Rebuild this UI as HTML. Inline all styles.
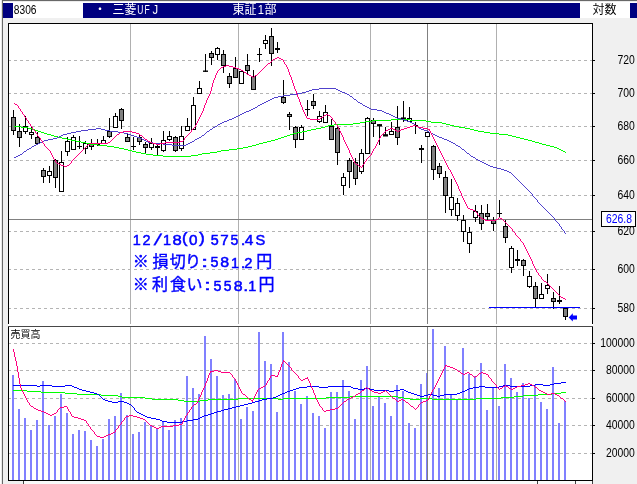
<!DOCTYPE html>
<html><head><meta charset="utf-8"><title>8306 chart</title>
<style>html,body{margin:0;padding:0;background:#f0f0f0;overflow:hidden}body{width:637px;height:484px;position:relative;font-family:"Liberation Sans",sans-serif}</style></head>
<body>
<svg width="637" height="484" viewBox="0 0 637 484" style="display:block;position:absolute;left:0;top:0;will-change:transform">
<rect x="0" y="0" width="637" height="484" fill="#f0f0f0"/>
<rect x="0" y="0" width="637" height="3" fill="#ffffff"/>
<rect x="0" y="0" width="2" height="484" fill="#ffffff"/>
<rect x="2" y="0" width="635" height="1" fill="#686868"/>
<rect x="2" y="0" width="1" height="484" fill="#686868"/>
<rect x="1" y="0" width="1" height="484" fill="#e8e8e8"/>
<rect x="3" y="1" width="634" height="1" fill="#ececec"/>
<rect x="3" y="3" width="634" height="15" fill="#000080"/>
<rect x="13" y="3" width="70" height="15" fill="#ffffff"/>
<rect x="580" y="3" width="50" height="15" fill="#ffffff"/>
<rect x="8" y="23" width="585" height="458" fill="#ffffff"/>
<rect x="24" y="481" width="568" height="3" fill="#fafafa"/>
<rect x="23" y="481" width="1" height="3" fill="#404040"/>
<rect x="537" y="481" width="1" height="3" fill="#404040"/>
<rect x="575" y="481" width="1" height="3" fill="#404040"/>
<rect x="592" y="481" width="1" height="3" fill="#404040"/>
<g shape-rendering="crispEdges">
<line x1="9" y1="60.5" x2="592" y2="60.5" stroke="#b4b4b4" stroke-width="1" stroke-dasharray="3 3" stroke-dashoffset="1"/>
<line x1="9" y1="93.5" x2="592" y2="93.5" stroke="#b4b4b4" stroke-width="1" stroke-dasharray="3 3" stroke-dashoffset="1"/>
<line x1="9" y1="126.5" x2="592" y2="126.5" stroke="#b4b4b4" stroke-width="1" stroke-dasharray="3 3" stroke-dashoffset="1"/>
<line x1="9" y1="160.5" x2="592" y2="160.5" stroke="#b4b4b4" stroke-width="1" stroke-dasharray="3 3" stroke-dashoffset="1"/>
<line x1="9" y1="195.5" x2="592" y2="195.5" stroke="#b4b4b4" stroke-width="1" stroke-dasharray="3 3" stroke-dashoffset="1"/>
<line x1="9" y1="231.5" x2="592" y2="231.5" stroke="#b4b4b4" stroke-width="1" stroke-dasharray="3 3" stroke-dashoffset="1"/>
<line x1="9" y1="269.5" x2="592" y2="269.5" stroke="#b4b4b4" stroke-width="1" stroke-dasharray="3 3" stroke-dashoffset="1"/>
<line x1="9" y1="308.5" x2="592" y2="308.5" stroke="#b4b4b4" stroke-width="1" stroke-dasharray="3 3" stroke-dashoffset="1"/>
<line x1="9" y1="343.5" x2="592" y2="343.5" stroke="#b4b4b4" stroke-width="1" stroke-dasharray="3 3" stroke-dashoffset="1"/>
<line x1="9" y1="370.5" x2="592" y2="370.5" stroke="#b4b4b4" stroke-width="1" stroke-dasharray="3 3" stroke-dashoffset="1"/>
<line x1="9" y1="398.5" x2="592" y2="398.5" stroke="#b4b4b4" stroke-width="1" stroke-dasharray="3 3" stroke-dashoffset="1"/>
<line x1="9" y1="425.5" x2="592" y2="425.5" stroke="#b4b4b4" stroke-width="1" stroke-dasharray="3 3" stroke-dashoffset="1"/>
<line x1="9" y1="453.5" x2="592" y2="453.5" stroke="#b4b4b4" stroke-width="1" stroke-dasharray="3 3" stroke-dashoffset="1"/>
<rect x="130" y="24" width="1" height="456" fill="#b0b0b0"/>
<rect x="238" y="24" width="1" height="456" fill="#b0b0b0"/>
<rect x="370" y="24" width="1" height="456" fill="#b0b0b0"/>
<rect x="496" y="24" width="1" height="456" fill="#b0b0b0"/>
<rect x="12" y="375" width="2" height="105" fill="#8080ff"/>
<rect x="18" y="409" width="2" height="71" fill="#8080ff"/>
<rect x="24" y="418" width="2" height="62" fill="#8080ff"/>
<rect x="30" y="430" width="2" height="50" fill="#8080ff"/>
<rect x="36" y="420" width="2" height="60" fill="#8080ff"/>
<rect x="42" y="381" width="2" height="99" fill="#8080ff"/>
<rect x="48" y="425" width="2" height="55" fill="#8080ff"/>
<rect x="54" y="416" width="2" height="64" fill="#8080ff"/>
<rect x="60" y="394" width="2" height="86" fill="#8080ff"/>
<rect x="66" y="413" width="2" height="67" fill="#8080ff"/>
<rect x="72" y="434" width="2" height="46" fill="#8080ff"/>
<rect x="78" y="430" width="2" height="50" fill="#8080ff"/>
<rect x="84" y="431" width="2" height="49" fill="#8080ff"/>
<rect x="90" y="440" width="2" height="40" fill="#8080ff"/>
<rect x="96" y="446" width="2" height="34" fill="#8080ff"/>
<rect x="102" y="439" width="2" height="41" fill="#8080ff"/>
<rect x="108" y="419" width="2" height="61" fill="#8080ff"/>
<rect x="114" y="416" width="2" height="64" fill="#8080ff"/>
<rect x="120" y="393" width="2" height="87" fill="#8080ff"/>
<rect x="126" y="415" width="2" height="65" fill="#8080ff"/>
<rect x="132" y="434" width="2" height="46" fill="#8080ff"/>
<rect x="138" y="432" width="2" height="48" fill="#8080ff"/>
<rect x="144" y="422" width="2" height="58" fill="#8080ff"/>
<rect x="150" y="426" width="2" height="54" fill="#8080ff"/>
<rect x="156" y="429" width="2" height="51" fill="#8080ff"/>
<rect x="162" y="422" width="2" height="58" fill="#8080ff"/>
<rect x="168" y="430" width="2" height="50" fill="#8080ff"/>
<rect x="174" y="420" width="2" height="60" fill="#8080ff"/>
<rect x="180" y="418" width="2" height="62" fill="#8080ff"/>
<rect x="186" y="376" width="2" height="104" fill="#8080ff"/>
<rect x="192" y="388" width="2" height="92" fill="#8080ff"/>
<rect x="198" y="394" width="2" height="86" fill="#8080ff"/>
<rect x="204" y="336" width="2" height="144" fill="#8080ff"/>
<rect x="210" y="359" width="2" height="121" fill="#8080ff"/>
<rect x="216" y="376" width="2" height="104" fill="#8080ff"/>
<rect x="222" y="395" width="2" height="85" fill="#8080ff"/>
<rect x="228" y="394" width="2" height="86" fill="#8080ff"/>
<rect x="234" y="379" width="2" height="101" fill="#8080ff"/>
<rect x="240" y="419" width="2" height="61" fill="#8080ff"/>
<rect x="246" y="407" width="2" height="73" fill="#8080ff"/>
<rect x="252" y="411" width="2" height="69" fill="#8080ff"/>
<rect x="258" y="332" width="2" height="148" fill="#8080ff"/>
<rect x="264" y="361" width="2" height="119" fill="#8080ff"/>
<rect x="270" y="364" width="2" height="116" fill="#8080ff"/>
<rect x="276" y="412" width="2" height="68" fill="#8080ff"/>
<rect x="282" y="332" width="2" height="148" fill="#8080ff"/>
<rect x="288" y="362" width="2" height="118" fill="#8080ff"/>
<rect x="294" y="391" width="2" height="89" fill="#8080ff"/>
<rect x="300" y="404" width="2" height="76" fill="#8080ff"/>
<rect x="306" y="396" width="2" height="84" fill="#8080ff"/>
<rect x="312" y="413" width="2" height="67" fill="#8080ff"/>
<rect x="318" y="416" width="2" height="64" fill="#8080ff"/>
<rect x="324" y="428" width="2" height="52" fill="#8080ff"/>
<rect x="330" y="392" width="2" height="88" fill="#8080ff"/>
<rect x="336" y="392" width="2" height="88" fill="#8080ff"/>
<rect x="342" y="380" width="2" height="100" fill="#8080ff"/>
<rect x="348" y="391" width="2" height="89" fill="#8080ff"/>
<rect x="354" y="419" width="2" height="61" fill="#8080ff"/>
<rect x="360" y="380" width="2" height="100" fill="#8080ff"/>
<rect x="366" y="366" width="2" height="114" fill="#8080ff"/>
<rect x="372" y="406" width="2" height="74" fill="#8080ff"/>
<rect x="378" y="397" width="2" height="83" fill="#8080ff"/>
<rect x="384" y="403" width="2" height="77" fill="#8080ff"/>
<rect x="390" y="416" width="2" height="64" fill="#8080ff"/>
<rect x="396" y="385" width="2" height="95" fill="#8080ff"/>
<rect x="402" y="391" width="2" height="89" fill="#8080ff"/>
<rect x="408" y="423" width="2" height="57" fill="#8080ff"/>
<rect x="414" y="428" width="2" height="52" fill="#8080ff"/>
<rect x="420" y="384" width="2" height="96" fill="#8080ff"/>
<rect x="426" y="373" width="2" height="107" fill="#8080ff"/>
<rect x="432" y="329" width="2" height="151" fill="#8080ff"/>
<rect x="438" y="388" width="2" height="92" fill="#8080ff"/>
<rect x="444" y="346" width="2" height="134" fill="#8080ff"/>
<rect x="450" y="394" width="2" height="86" fill="#8080ff"/>
<rect x="456" y="399" width="2" height="81" fill="#8080ff"/>
<rect x="462" y="348" width="2" height="132" fill="#8080ff"/>
<rect x="468" y="374" width="2" height="106" fill="#8080ff"/>
<rect x="474" y="376" width="2" height="104" fill="#8080ff"/>
<rect x="480" y="363" width="2" height="117" fill="#8080ff"/>
<rect x="486" y="410" width="2" height="70" fill="#8080ff"/>
<rect x="492" y="388" width="2" height="92" fill="#8080ff"/>
<rect x="498" y="406" width="2" height="74" fill="#8080ff"/>
<rect x="504" y="364" width="2" height="116" fill="#8080ff"/>
<rect x="510" y="378" width="2" height="102" fill="#8080ff"/>
<rect x="516" y="392" width="2" height="88" fill="#8080ff"/>
<rect x="522" y="383" width="2" height="97" fill="#8080ff"/>
<rect x="528" y="398" width="2" height="82" fill="#8080ff"/>
<rect x="534" y="385" width="2" height="95" fill="#8080ff"/>
<rect x="540" y="402" width="2" height="78" fill="#8080ff"/>
<rect x="546" y="409" width="2" height="71" fill="#8080ff"/>
<rect x="552" y="367" width="2" height="113" fill="#8080ff"/>
<rect x="558" y="423" width="2" height="57" fill="#8080ff"/>
<rect x="564" y="401" width="2" height="79" fill="#8080ff"/>
<rect x="427" y="24" width="1" height="456" fill="#808080"/>
<rect x="9" y="219" width="583" height="1" fill="#808080"/>
</g>
<path d="M13 390.5h14M27 391.5h14M41 392.5h24M561 392.5h5M65 393.5h12M552 393.5h9M77 394.5h24M538 394.5h14M101 395.5h17M523 395.5h15M118 396.5h4M350 396.5h48M514 396.5h9M122 397.5h23M326 397.5h24M398 397.5h6M501 397.5h13M145 398.5h7M238 398.5h40M283 398.5h43M404 398.5h6M420 398.5h12M476 398.5h25M152 399.5h26M208 399.5h30M278 399.5h5M410 399.5h10M432 399.5h44M178 400.5h6M200 400.5h8M184 401.5h16" fill="none" stroke="#00ff00" stroke-width="1" shape-rendering="crispEdges"/>
<path d="M561 382.5h5M554 383.5h7M535 384.5h8M550 384.5h4M13 385.5h24M40 385.5h12M65 385.5h7M503 385.5h7M530 385.5h5M543 385.5h7M37 386.5h3M52 386.5h13M72 386.5h2M307 386.5h12M328 386.5h23M479 386.5h6M499 386.5h4M510 386.5h20M74 387.5h3M299 387.5h8M319 387.5h9M351 387.5h2M473 387.5h6M485 387.5h14M77 388.5h2M296 388.5h3M353 388.5h5M364 388.5h6M469 388.5h4M79 389.5h3M293 389.5h3M358 389.5h6M370 389.5h4M400 389.5h4M467 389.5h2M82 390.5h4M290 390.5h3M374 390.5h15M394 390.5h6M404 390.5h2M465 390.5h2M86 391.5h4M287 391.5h3M389 391.5h5M406 391.5h2M462 391.5h3M90 392.5h4M285 392.5h2M408 392.5h3M460 392.5h2M94 393.5h3M282 393.5h3M411 393.5h3M457 393.5h3M97 394.5h2M280 394.5h2M414 394.5h3M428 394.5h5M444 394.5h13M99 395.5h1M278 395.5h2M417 395.5h3M424 395.5h4M433 395.5h4M440 395.5h4M100 396.5h1M276 396.5h2M420 396.5h4M437 396.5h3M101 397.5h1M273 397.5h3M102 398.5h1M267 398.5h6M103 399.5h2M262 399.5h5M105 400.5h3M259 400.5h3M108 401.5h4M118 401.5h6M255 401.5h4M112 402.5h6M124 402.5h3M252 402.5h3M127 403.5h2M248 403.5h4M129 404.5h2M244 404.5h4M131 405.5h1M240 405.5h4M132 406.5h1M236 406.5h4M133 407.5h1M232 407.5h4M134 408.5h1M228 408.5h4M134 409.5h1M224 409.5h4M135 410.5h1M221 410.5h3M136 411.5h1M217 411.5h4M137 412.5h2M214 412.5h3M139 413.5h2M211 413.5h3M141 414.5h2M208 414.5h3M143 415.5h2M204 415.5h4M145 416.5h2M202 416.5h2M147 417.5h4M200 417.5h2M151 418.5h5M198 418.5h2M156 419.5h4M193 419.5h5M160 420.5h2M187 420.5h6M162 421.5h5M182 421.5h5M167 422.5h15" fill="none" stroke="#0000ff" stroke-width="1" shape-rendering="crispEdges"/>
<path d="M13 349.5h1M13 350.5h1M13 351.5h1M14 352.5h1M14 353.5h1M14 354.5h1M14 355.5h1M14 356.5h1M15 357.5h1M15 358.5h1M15 359.5h1M15 360.5h1M283 360.5h1M16 361.5h1M283 361.5h2M16 362.5h1M282 362.5h1M285 362.5h1M16 363.5h1M282 363.5h1M286 363.5h1M16 364.5h1M281 364.5h1M287 364.5h1M16 365.5h1M281 365.5h1M288 365.5h1M445 365.5h2M17 366.5h1M281 366.5h1M289 366.5h1M445 366.5h1M447 366.5h3M17 367.5h1M280 367.5h1M290 367.5h1M444 367.5h1M450 367.5h3M17 368.5h1M280 368.5h1M291 368.5h1M444 368.5h1M453 368.5h2M17 369.5h1M280 369.5h1M291 369.5h1M443 369.5h1M455 369.5h2M17 370.5h1M214 370.5h4M279 370.5h1M292 370.5h1M443 370.5h1M457 370.5h1M17 371.5h1M210 371.5h4M218 371.5h3M279 371.5h1M293 371.5h1M442 371.5h1M458 371.5h2M18 372.5h1M210 372.5h1M221 372.5h9M278 372.5h1M294 372.5h1M442 372.5h1M460 372.5h1M467 372.5h2M481 372.5h2M18 373.5h1M209 373.5h1M230 373.5h1M278 373.5h1M295 373.5h1M441 373.5h1M461 373.5h2M465 373.5h2M469 373.5h1M479 373.5h2M483 373.5h3M18 374.5h1M209 374.5h1M231 374.5h1M278 374.5h1M296 374.5h1M441 374.5h1M463 374.5h2M470 374.5h2M478 374.5h1M486 374.5h2M18 375.5h1M208 375.5h1M232 375.5h1M271 375.5h4M277 375.5h1M297 375.5h1M440 375.5h1M472 375.5h1M477 375.5h1M488 375.5h1M18 376.5h1M208 376.5h1M232 376.5h1M270 376.5h1M275 376.5h3M298 376.5h1M440 376.5h1M473 376.5h1M475 376.5h2M488 376.5h1M18 377.5h1M208 377.5h1M233 377.5h1M270 377.5h1M298 377.5h1M307 377.5h1M439 377.5h1M474 377.5h1M489 377.5h1M19 378.5h1M207 378.5h1M234 378.5h1M269 378.5h1M299 378.5h1M305 378.5h3M439 378.5h1M490 378.5h1M19 379.5h1M207 379.5h1M235 379.5h1M269 379.5h1M300 379.5h1M303 379.5h2M308 379.5h1M438 379.5h1M491 379.5h1M19 380.5h1M207 380.5h1M235 380.5h1M268 380.5h1M301 380.5h2M308 380.5h1M438 380.5h1M491 380.5h1M19 381.5h1M206 381.5h1M236 381.5h1M267 381.5h1M309 381.5h1M437 381.5h1M492 381.5h1M19 382.5h1M206 382.5h1M236 382.5h1M267 382.5h1M309 382.5h1M437 382.5h1M493 382.5h1M19 383.5h1M205 383.5h1M237 383.5h1M266 383.5h1M310 383.5h1M436 383.5h1M494 383.5h1M528 383.5h2M20 384.5h1M205 384.5h1M237 384.5h1M266 384.5h1M310 384.5h1M436 384.5h1M495 384.5h1M525 384.5h3M530 384.5h2M20 385.5h1M205 385.5h1M238 385.5h1M265 385.5h1M310 385.5h1M435 385.5h1M496 385.5h1M505 385.5h1M521 385.5h4M532 385.5h2M20 386.5h1M204 386.5h1M238 386.5h1M263 386.5h2M311 386.5h1M435 386.5h1M496 386.5h1M503 386.5h2M506 386.5h2M517 386.5h4M534 386.5h1M20 387.5h1M204 387.5h1M239 387.5h1M261 387.5h2M311 387.5h1M366 387.5h1M434 387.5h1M497 387.5h1M502 387.5h1M508 387.5h1M515 387.5h2M535 387.5h2M21 388.5h1M203 388.5h1M239 388.5h1M259 388.5h2M312 388.5h1M365 388.5h1M367 388.5h2M434 388.5h1M498 388.5h1M500 388.5h2M509 388.5h2M513 388.5h2M537 388.5h1M21 389.5h1M203 389.5h1M240 389.5h1M258 389.5h1M312 389.5h1M364 389.5h1M369 389.5h1M433 389.5h1M499 389.5h1M511 389.5h2M538 389.5h1M22 390.5h1M202 390.5h1M240 390.5h1M257 390.5h1M313 390.5h1M362 390.5h2M370 390.5h2M385 390.5h1M432 390.5h1M539 390.5h2M22 391.5h1M202 391.5h1M241 391.5h1M257 391.5h1M313 391.5h1M361 391.5h1M372 391.5h2M383 391.5h2M386 391.5h1M432 391.5h1M541 391.5h2M23 392.5h1M201 392.5h1M241 392.5h1M256 392.5h1M313 392.5h1M360 392.5h1M374 392.5h4M381 392.5h2M387 392.5h1M431 392.5h1M543 392.5h2M23 393.5h1M201 393.5h1M242 393.5h1M256 393.5h1M314 393.5h1M358 393.5h2M378 393.5h3M388 393.5h1M431 393.5h1M545 393.5h2M551 393.5h4M24 394.5h1M201 394.5h1M243 394.5h2M255 394.5h1M314 394.5h1M356 394.5h2M389 394.5h1M430 394.5h1M547 394.5h4M555 394.5h2M24 395.5h1M200 395.5h1M245 395.5h1M255 395.5h1M315 395.5h1M355 395.5h1M390 395.5h1M430 395.5h1M557 395.5h2M25 396.5h1M200 396.5h1M246 396.5h1M254 396.5h1M315 396.5h1M353 396.5h2M391 396.5h1M429 396.5h1M559 396.5h1M25 397.5h1M199 397.5h1M247 397.5h1M254 397.5h1M315 397.5h1M351 397.5h2M392 397.5h1M429 397.5h1M560 397.5h1M26 398.5h1M199 398.5h1M248 398.5h1M253 398.5h1M316 398.5h1M349 398.5h2M393 398.5h2M428 398.5h1M561 398.5h2M26 399.5h1M198 399.5h1M249 399.5h2M253 399.5h1M316 399.5h1M347 399.5h2M395 399.5h1M401 399.5h2M428 399.5h1M563 399.5h1M27 400.5h1M198 400.5h1M251 400.5h2M317 400.5h1M346 400.5h1M396 400.5h1M399 400.5h2M403 400.5h2M426 400.5h2M564 400.5h1M27 401.5h1M197 401.5h1M252 401.5h1M317 401.5h1M344 401.5h2M397 401.5h2M405 401.5h1M423 401.5h3M565 401.5h1M28 402.5h1M197 402.5h1M318 402.5h1M343 402.5h1M406 402.5h2M421 402.5h2M29 403.5h1M196 403.5h1M318 403.5h1M342 403.5h1M408 403.5h1M420 403.5h1M29 404.5h1M194 404.5h2M319 404.5h1M341 404.5h1M409 404.5h1M419 404.5h1M30 405.5h1M193 405.5h1M319 405.5h1M340 405.5h1M410 405.5h1M418 405.5h1M31 406.5h2M64 406.5h3M192 406.5h1M320 406.5h1M339 406.5h1M411 406.5h2M418 406.5h1M33 407.5h1M60 407.5h4M67 407.5h1M191 407.5h1M321 407.5h1M338 407.5h1M413 407.5h1M417 407.5h1M34 408.5h2M59 408.5h1M67 408.5h1M191 408.5h1M322 408.5h1M335 408.5h3M414 408.5h1M416 408.5h1M36 409.5h2M58 409.5h1M68 409.5h1M190 409.5h1M322 409.5h1M330 409.5h5M415 409.5h1M38 410.5h3M57 410.5h1M68 410.5h1M189 410.5h1M323 410.5h1M326 410.5h4M41 411.5h3M57 411.5h1M69 411.5h1M189 411.5h1M324 411.5h2M44 412.5h2M56 412.5h1M70 412.5h1M188 412.5h1M46 413.5h2M54 413.5h2M70 413.5h1M187 413.5h1M48 414.5h2M52 414.5h2M71 414.5h1M187 414.5h1M50 415.5h2M71 415.5h1M129 415.5h4M186 415.5h1M72 416.5h2M126 416.5h3M133 416.5h4M185 416.5h1M74 417.5h4M125 417.5h1M137 417.5h3M185 417.5h1M78 418.5h3M124 418.5h1M140 418.5h3M184 418.5h1M81 419.5h3M124 419.5h1M143 419.5h2M184 419.5h1M84 420.5h2M123 420.5h1M145 420.5h1M183 420.5h1M86 421.5h1M122 421.5h1M146 421.5h1M183 421.5h1M86 422.5h1M121 422.5h1M147 422.5h1M182 422.5h1M87 423.5h1M121 423.5h1M148 423.5h1M182 423.5h1M88 424.5h1M120 424.5h1M149 424.5h1M179 424.5h3M88 425.5h1M119 425.5h1M150 425.5h2M173 425.5h6M89 426.5h1M118 426.5h1M152 426.5h2M161 426.5h12M90 427.5h1M118 427.5h1M154 427.5h2M159 427.5h2M90 428.5h1M117 428.5h1M156 428.5h3M91 429.5h1M116 429.5h1M92 430.5h1M115 430.5h1M93 431.5h1M115 431.5h1M94 432.5h1M113 432.5h2M94 433.5h1M111 433.5h2M95 434.5h1M108 434.5h3M96 435.5h1M106 435.5h2M97 436.5h3M104 436.5h2M100 437.5h4" fill="none" stroke="#ff0080" stroke-width="1" shape-rendering="crispEdges"/>
<g shape-rendering="crispEdges">
<rect x="13" y="110" width="1" height="25" fill="#000"/>
<rect x="11.5" y="117.5" width="4" height="13" fill="#808080" stroke="#000" stroke-width="1"/>
<rect x="19" y="124" width="1" height="23" fill="#000"/>
<rect x="17.5" y="131.5" width="4" height="6" fill="#808080" stroke="#000" stroke-width="1"/>
<rect x="25" y="116" width="1" height="18" fill="#000"/>
<rect x="23.5" y="126.5" width="4" height="5" fill="#ffffff" stroke="#000" stroke-width="1"/>
<rect x="31" y="127" width="1" height="12" fill="#000"/>
<rect x="29.5" y="132.5" width="4" height="2" fill="#ffffff" stroke="#000" stroke-width="1"/>
<rect x="37" y="132" width="1" height="12" fill="#000"/>
<rect x="35.5" y="137.5" width="4" height="6" fill="#808080" stroke="#000" stroke-width="1"/>
<rect x="43" y="168" width="1" height="15" fill="#000"/>
<rect x="41.5" y="170.5" width="4" height="6" fill="#808080" stroke="#000" stroke-width="1"/>
<rect x="49" y="166" width="1" height="17" fill="#000"/>
<rect x="47.5" y="171.5" width="4" height="4" fill="#ffffff" stroke="#000" stroke-width="1"/>
<rect x="55" y="159" width="1" height="29" fill="#000"/>
<rect x="53.5" y="160.5" width="4" height="17" fill="#808080" stroke="#000" stroke-width="1"/>
<rect x="61" y="151" width="1" height="41" fill="#000"/>
<rect x="59.5" y="162.5" width="4" height="29" fill="#ffffff" stroke="#000" stroke-width="1"/>
<rect x="67" y="137" width="1" height="19" fill="#000"/>
<rect x="65.5" y="141.5" width="4" height="10" fill="#ffffff" stroke="#000" stroke-width="1"/>
<rect x="73" y="135" width="1" height="15" fill="#000"/>
<rect x="71.5" y="137.5" width="4" height="12" fill="#ffffff" stroke="#000" stroke-width="1"/>
<rect x="79" y="136" width="1" height="13" fill="#000"/>
<rect x="77" y="146" width="5" height="1" fill="#000"/>
<rect x="85" y="141" width="1" height="13" fill="#000"/>
<rect x="83.5" y="143.5" width="4" height="5" fill="#ffffff" stroke="#000" stroke-width="1"/>
<rect x="91" y="139" width="1" height="11" fill="#000"/>
<rect x="89.5" y="144.5" width="4" height="2" fill="#808080" stroke="#000" stroke-width="1"/>
<rect x="97" y="139" width="1" height="7" fill="#000"/>
<rect x="95.5" y="143.5" width="4" height="1" fill="#808080" stroke="#000" stroke-width="1"/>
<rect x="103" y="136" width="1" height="8" fill="#000"/>
<rect x="101.5" y="140.5" width="4" height="3" fill="#ffffff" stroke="#000" stroke-width="1"/>
<rect x="109" y="118" width="1" height="20" fill="#000"/>
<rect x="107.5" y="131.5" width="4" height="5" fill="#808080" stroke="#000" stroke-width="1"/>
<rect x="115" y="113" width="1" height="15" fill="#000"/>
<rect x="113.5" y="116.5" width="4" height="11" fill="#ffffff" stroke="#000" stroke-width="1"/>
<rect x="121" y="108" width="1" height="21" fill="#000"/>
<rect x="119.5" y="109.5" width="4" height="11" fill="#808080" stroke="#000" stroke-width="1"/>
<rect x="127" y="134" width="1" height="8" fill="#000"/>
<rect x="125.5" y="137.5" width="4" height="4" fill="#808080" stroke="#000" stroke-width="1"/>
<rect x="133" y="137" width="1" height="13" fill="#000"/>
<rect x="131" y="146" width="5" height="1" fill="#000"/>
<rect x="139" y="135" width="1" height="10" fill="#000"/>
<rect x="137.5" y="137.5" width="4" height="4" fill="#808080" stroke="#000" stroke-width="1"/>
<rect x="145" y="142" width="1" height="11" fill="#000"/>
<rect x="143.5" y="144.5" width="4" height="3" fill="#808080" stroke="#000" stroke-width="1"/>
<rect x="151" y="138" width="1" height="12" fill="#000"/>
<rect x="149.5" y="143.5" width="4" height="4" fill="#ffffff" stroke="#000" stroke-width="1"/>
<rect x="157" y="143" width="1" height="12" fill="#000"/>
<rect x="155.5" y="146.5" width="4" height="1" fill="#808080" stroke="#000" stroke-width="1"/>
<rect x="163" y="131" width="1" height="21" fill="#000"/>
<rect x="161.5" y="140.5" width="4" height="10" fill="#ffffff" stroke="#000" stroke-width="1"/>
<rect x="169" y="131" width="1" height="10" fill="#000"/>
<rect x="167.5" y="136.5" width="4" height="3" fill="#ffffff" stroke="#000" stroke-width="1"/>
<rect x="175" y="136" width="1" height="16" fill="#000"/>
<rect x="173.5" y="137.5" width="4" height="13" fill="#808080" stroke="#000" stroke-width="1"/>
<rect x="181" y="126" width="1" height="25" fill="#000"/>
<rect x="179.5" y="136.5" width="4" height="12" fill="#ffffff" stroke="#000" stroke-width="1"/>
<rect x="187" y="118" width="1" height="13" fill="#000"/>
<rect x="185.5" y="126.5" width="4" height="4" fill="#ffffff" stroke="#000" stroke-width="1"/>
<rect x="193" y="97" width="1" height="33" fill="#000"/>
<rect x="191.5" y="105.5" width="4" height="24" fill="#ffffff" stroke="#000" stroke-width="1"/>
<rect x="199" y="81" width="1" height="13" fill="#000"/>
<rect x="197.5" y="88.5" width="4" height="5" fill="#ffffff" stroke="#000" stroke-width="1"/>
<rect x="205" y="54" width="1" height="18" fill="#000"/>
<rect x="203" y="70.5" width="5" height="1.4" fill="#000" shape-rendering="auto"/>
<rect x="211" y="51" width="1" height="14" fill="#000"/>
<rect x="209.5" y="53.5" width="4" height="4" fill="#808080" stroke="#000" stroke-width="1"/>
<rect x="217" y="47" width="1" height="13" fill="#000"/>
<rect x="215.5" y="48.5" width="4" height="6" fill="#ffffff" stroke="#000" stroke-width="1"/>
<rect x="223" y="50" width="1" height="23" fill="#000"/>
<rect x="221.5" y="54.5" width="4" height="11" fill="#808080" stroke="#000" stroke-width="1"/>
<rect x="229" y="73" width="1" height="15" fill="#000"/>
<rect x="227.5" y="76.5" width="4" height="7" fill="#808080" stroke="#000" stroke-width="1"/>
<rect x="235" y="57" width="1" height="21" fill="#000"/>
<rect x="233.5" y="68.5" width="4" height="9" fill="#808080" stroke="#000" stroke-width="1"/>
<rect x="241" y="71" width="1" height="13" fill="#000"/>
<rect x="239.5" y="71.5" width="4" height="12" fill="#ffffff" stroke="#000" stroke-width="1"/>
<rect x="247" y="54" width="1" height="20" fill="#000"/>
<rect x="245.5" y="65.5" width="4" height="5" fill="#808080" stroke="#000" stroke-width="1"/>
<rect x="253" y="70" width="1" height="20" fill="#000"/>
<rect x="251.5" y="76.5" width="4" height="13" fill="#808080" stroke="#000" stroke-width="1"/>
<rect x="259" y="48" width="1" height="14" fill="#000"/>
<rect x="257" y="54" width="5" height="1" fill="#000"/>
<rect x="265" y="35" width="1" height="14" fill="#000"/>
<rect x="263.5" y="40.5" width="4" height="3" fill="#ffffff" stroke="#000" stroke-width="1"/>
<rect x="271" y="28" width="1" height="38" fill="#000"/>
<rect x="269.5" y="36.5" width="4" height="17" fill="#808080" stroke="#000" stroke-width="1"/>
<rect x="277" y="42" width="1" height="11" fill="#000"/>
<rect x="275" y="48.0" width="5" height="2.0" fill="#000" shape-rendering="auto"/>
<rect x="283" y="80" width="1" height="24" fill="#000"/>
<rect x="281.5" y="97.5" width="4" height="5" fill="#808080" stroke="#000" stroke-width="1"/>
<rect x="289" y="112" width="1" height="18" fill="#000"/>
<rect x="287.5" y="114.5" width="4" height="2" fill="#808080" stroke="#000" stroke-width="1"/>
<rect x="295" y="126" width="1" height="22" fill="#000"/>
<rect x="293.5" y="127.5" width="4" height="12" fill="#808080" stroke="#000" stroke-width="1"/>
<rect x="301" y="125" width="1" height="15" fill="#000"/>
<rect x="299.5" y="127.5" width="4" height="12" fill="#ffffff" stroke="#000" stroke-width="1"/>
<rect x="307" y="100" width="1" height="16" fill="#000"/>
<rect x="305" y="109" width="5" height="1" fill="#000"/>
<rect x="313" y="94" width="1" height="15" fill="#000"/>
<rect x="311.5" y="101.5" width="4" height="4" fill="#808080" stroke="#000" stroke-width="1"/>
<rect x="319" y="111" width="1" height="12" fill="#000"/>
<rect x="317.5" y="116.5" width="4" height="5" fill="#ffffff" stroke="#000" stroke-width="1"/>
<rect x="325" y="105" width="1" height="18" fill="#000"/>
<rect x="323.5" y="112.5" width="4" height="10" fill="#ffffff" stroke="#000" stroke-width="1"/>
<rect x="331" y="119" width="1" height="21" fill="#000"/>
<rect x="329.5" y="126.5" width="4" height="13" fill="#808080" stroke="#000" stroke-width="1"/>
<rect x="337" y="127" width="1" height="38" fill="#000"/>
<rect x="335.5" y="128.5" width="4" height="24" fill="#808080" stroke="#000" stroke-width="1"/>
<rect x="343" y="173" width="1" height="22" fill="#000"/>
<rect x="341.5" y="177.5" width="4" height="8" fill="#ffffff" stroke="#000" stroke-width="1"/>
<rect x="349" y="158" width="1" height="30" fill="#000"/>
<rect x="347.5" y="160.5" width="4" height="11" fill="#808080" stroke="#000" stroke-width="1"/>
<rect x="355" y="158" width="1" height="27" fill="#000"/>
<rect x="353.5" y="162.5" width="4" height="16" fill="#808080" stroke="#000" stroke-width="1"/>
<rect x="361" y="149" width="1" height="25" fill="#000"/>
<rect x="359.5" y="153.5" width="4" height="18" fill="#ffffff" stroke="#000" stroke-width="1"/>
<rect x="367" y="117" width="1" height="37" fill="#000"/>
<rect x="365.5" y="118.5" width="4" height="35" fill="#ffffff" stroke="#000" stroke-width="1"/>
<rect x="373" y="118" width="1" height="19" fill="#000"/>
<rect x="371.5" y="120.5" width="4" height="3" fill="#808080" stroke="#000" stroke-width="1"/>
<rect x="379" y="124" width="1" height="21" fill="#000"/>
<rect x="377" y="124.1" width="5" height="2.3" fill="#000" shape-rendering="auto"/>
<rect x="385" y="127" width="1" height="9" fill="#000"/>
<rect x="383" y="134.2" width="5" height="2.3" fill="#000" shape-rendering="auto"/>
<rect x="391" y="122" width="1" height="13" fill="#000"/>
<rect x="389.5" y="131.5" width="4" height="3" fill="#ffffff" stroke="#000" stroke-width="1"/>
<rect x="397" y="106" width="1" height="39" fill="#000"/>
<rect x="395.5" y="127.5" width="4" height="10" fill="#808080" stroke="#000" stroke-width="1"/>
<rect x="403" y="101" width="1" height="21" fill="#000"/>
<rect x="401" y="117.4" width="5" height="1.9" fill="#000" shape-rendering="auto"/>
<rect x="409" y="107" width="1" height="15" fill="#000"/>
<rect x="407.5" y="118.5" width="4" height="3" fill="#ffffff" stroke="#000" stroke-width="1"/>
<rect x="415" y="122" width="1" height="12" fill="#000"/>
<rect x="413" y="125" width="5" height="1" fill="#000"/>
<rect x="421" y="145" width="1" height="18" fill="#000"/>
<rect x="419" y="148" width="5" height="2" fill="#000"/>
<rect x="427" y="132" width="1" height="5" fill="#000"/>
<rect x="425.5" y="132.5" width="4" height="4" fill="#ffffff" stroke="#000" stroke-width="1"/>
<rect x="433" y="145" width="1" height="35" fill="#000"/>
<rect x="431.5" y="146.5" width="4" height="23" fill="#808080" stroke="#000" stroke-width="1"/>
<rect x="439" y="163" width="1" height="15" fill="#000"/>
<rect x="437.5" y="166.5" width="4" height="7" fill="#808080" stroke="#000" stroke-width="1"/>
<rect x="445" y="171" width="1" height="42" fill="#000"/>
<rect x="443.5" y="177.5" width="4" height="18" fill="#808080" stroke="#000" stroke-width="1"/>
<rect x="451" y="179" width="1" height="37" fill="#000"/>
<rect x="449.5" y="197.5" width="4" height="12" fill="#ffffff" stroke="#000" stroke-width="1"/>
<rect x="457" y="198" width="1" height="23" fill="#000"/>
<rect x="455.5" y="203.5" width="4" height="12" fill="#ffffff" stroke="#000" stroke-width="1"/>
<rect x="463" y="215" width="1" height="27" fill="#000"/>
<rect x="461.5" y="220.5" width="4" height="11" fill="#ffffff" stroke="#000" stroke-width="1"/>
<rect x="469" y="227" width="1" height="26" fill="#000"/>
<rect x="467.5" y="232.5" width="4" height="11" fill="#ffffff" stroke="#000" stroke-width="1"/>
<rect x="475" y="205" width="1" height="17" fill="#000"/>
<rect x="473.5" y="211.5" width="4" height="6" fill="#ffffff" stroke="#000" stroke-width="1"/>
<rect x="481" y="205" width="1" height="25" fill="#000"/>
<rect x="479.5" y="213.5" width="4" height="10" fill="#808080" stroke="#000" stroke-width="1"/>
<rect x="487" y="204" width="1" height="16" fill="#000"/>
<rect x="485.5" y="213.5" width="4" height="3" fill="#808080" stroke="#000" stroke-width="1"/>
<rect x="493" y="217" width="1" height="14" fill="#000"/>
<rect x="491.5" y="220.5" width="4" height="3" fill="#808080" stroke="#000" stroke-width="1"/>
<rect x="499" y="200" width="1" height="18" fill="#000"/>
<rect x="497" y="213" width="5" height="1" fill="#000"/>
<rect x="505" y="220" width="1" height="23" fill="#000"/>
<rect x="503.5" y="226.5" width="4" height="11" fill="#808080" stroke="#000" stroke-width="1"/>
<rect x="511" y="246" width="1" height="27" fill="#000"/>
<rect x="509.5" y="248.5" width="4" height="19" fill="#ffffff" stroke="#000" stroke-width="1"/>
<rect x="517" y="250" width="1" height="16" fill="#000"/>
<rect x="515" y="259" width="5" height="2" fill="#000"/>
<rect x="523" y="259" width="1" height="17" fill="#000"/>
<rect x="521.5" y="260.5" width="4" height="5" fill="#808080" stroke="#000" stroke-width="1"/>
<rect x="529" y="271" width="1" height="17" fill="#000"/>
<rect x="527.5" y="276.5" width="4" height="10" fill="#ffffff" stroke="#000" stroke-width="1"/>
<rect x="535" y="282" width="1" height="25" fill="#000"/>
<rect x="533.5" y="286.5" width="4" height="12" fill="#808080" stroke="#000" stroke-width="1"/>
<rect x="541" y="283" width="1" height="16" fill="#000"/>
<rect x="539.5" y="294.5" width="4" height="4" fill="#ffffff" stroke="#000" stroke-width="1"/>
<rect x="547" y="274" width="1" height="20" fill="#000"/>
<rect x="545.5" y="285.5" width="4" height="3" fill="#ffffff" stroke="#000" stroke-width="1"/>
<rect x="553" y="292" width="1" height="17" fill="#000"/>
<rect x="551.5" y="298.5" width="4" height="3" fill="#808080" stroke="#000" stroke-width="1"/>
<rect x="559" y="286" width="1" height="18" fill="#000"/>
<rect x="557" y="300" width="5" height="2" fill="#000"/>
<rect x="565" y="308" width="1" height="12" fill="#000"/>
<rect x="563.5" y="308.5" width="4" height="8" fill="#808080" stroke="#000" stroke-width="1"/>
</g>
<path d="M391 119.5h19M372 120.5h19M410 120.5h16M365 121.5h7M426 121.5h5M360 122.5h5M431 122.5h11M353 123.5h7M442 123.5h4M334 124.5h19M446 124.5h4M328 125.5h6M450 125.5h4M14 126.5h7M325 126.5h3M454 126.5h5M21 127.5h7M321 127.5h4M459 127.5h6M28 128.5h4M316 128.5h5M465 128.5h5M32 129.5h3M311 129.5h5M470 129.5h4M35 130.5h3M307 130.5h4M474 130.5h4M38 131.5h3M302 131.5h5M478 131.5h6M41 132.5h3M297 132.5h5M484 132.5h6M44 133.5h3M293 133.5h4M490 133.5h9M47 134.5h4M290 134.5h3M499 134.5h9M51 135.5h3M287 135.5h3M508 135.5h4M54 136.5h4M284 136.5h3M512 136.5h4M58 137.5h4M281 137.5h3M516 137.5h4M62 138.5h5M278 138.5h3M520 138.5h4M67 139.5h4M275 139.5h3M524 139.5h4M71 140.5h5M271 140.5h4M528 140.5h4M76 141.5h5M267 141.5h4M532 141.5h3M81 142.5h5M263 142.5h4M535 142.5h4M86 143.5h4M259 143.5h4M539 143.5h3M90 144.5h8M256 144.5h3M542 144.5h4M98 145.5h9M252 145.5h4M546 145.5h4M107 146.5h7M248 146.5h4M550 146.5h4M114 147.5h5M243 147.5h5M554 147.5h3M119 148.5h5M237 148.5h6M557 148.5h2M124 149.5h4M229 149.5h8M559 149.5h2M128 150.5h4M221 150.5h8M561 150.5h2M132 151.5h4M217 151.5h4M563 151.5h2M136 152.5h5M210 152.5h7M565 152.5h1M141 153.5h5M202 153.5h8M146 154.5h7M198 154.5h4M153 155.5h10M191 155.5h7M163 156.5h28" fill="none" stroke="#00ff00" stroke-width="1" shape-rendering="crispEdges"/>
<path d="M319 88.5h17M312 89.5h7M336 89.5h2M309 90.5h3M338 90.5h2M306 91.5h3M340 91.5h2M302 92.5h4M342 92.5h3M297 93.5h5M345 93.5h2M290 94.5h7M347 94.5h2M283 95.5h7M349 95.5h1M278 96.5h5M350 96.5h2M274 97.5h4M352 97.5h1M272 98.5h2M353 98.5h1M270 99.5h2M354 99.5h2M268 100.5h2M356 100.5h1M266 101.5h2M357 101.5h1M264 102.5h2M358 102.5h2M262 103.5h2M360 103.5h2M260 104.5h2M362 104.5h1M258 105.5h2M363 105.5h2M257 106.5h1M365 106.5h2M255 107.5h2M367 107.5h2M253 108.5h2M369 108.5h2M251 109.5h2M371 109.5h6M249 110.5h2M377 110.5h5M246 111.5h3M382 111.5h2M244 112.5h2M384 112.5h2M242 113.5h2M386 113.5h3M240 114.5h2M389 114.5h2M238 115.5h2M391 115.5h2M236 116.5h2M393 116.5h2M234 117.5h2M395 117.5h2M232 118.5h2M397 118.5h4M229 119.5h3M401 119.5h3M227 120.5h2M404 120.5h3M224 121.5h3M407 121.5h3M222 122.5h2M410 122.5h2M220 123.5h2M412 123.5h2M218 124.5h2M414 124.5h1M217 125.5h1M415 125.5h1M215 126.5h2M416 126.5h2M213 127.5h2M418 127.5h1M96 128.5h5M212 128.5h1M419 128.5h2M88 129.5h8M101 129.5h4M210 129.5h2M421 129.5h3M81 130.5h7M105 130.5h5M209 130.5h1M424 130.5h3M76 131.5h5M110 131.5h8M207 131.5h2M427 131.5h2M71 132.5h5M118 132.5h6M206 132.5h1M429 132.5h2M67 133.5h4M124 133.5h4M205 133.5h1M431 133.5h2M63 134.5h4M128 134.5h3M204 134.5h1M433 134.5h2M61 135.5h2M131 135.5h3M202 135.5h2M435 135.5h2M59 136.5h2M134 136.5h3M201 136.5h1M437 136.5h2M57 137.5h2M137 137.5h3M199 137.5h2M439 137.5h3M53 138.5h4M140 138.5h2M197 138.5h2M442 138.5h2M48 139.5h5M142 139.5h2M195 139.5h2M444 139.5h3M44 140.5h4M144 140.5h2M194 140.5h1M447 140.5h2M42 141.5h2M146 141.5h2M192 141.5h2M449 141.5h2M40 142.5h2M148 142.5h5M190 142.5h2M451 142.5h2M38 143.5h2M153 143.5h10M188 143.5h2M453 143.5h2M36 144.5h2M163 144.5h9M186 144.5h2M455 144.5h1M34 145.5h2M172 145.5h14M456 145.5h2M32 146.5h2M458 146.5h2M31 147.5h1M460 147.5h1M29 148.5h2M461 148.5h1M27 149.5h2M462 149.5h2M26 150.5h1M464 150.5h1M24 151.5h2M465 151.5h1M23 152.5h1M466 152.5h1M22 153.5h1M467 153.5h2M20 154.5h2M469 154.5h1M18 155.5h2M470 155.5h1M16 156.5h2M471 156.5h2M14 157.5h2M473 157.5h2M475 158.5h1M476 159.5h2M478 160.5h2M480 161.5h2M482 162.5h2M484 163.5h2M486 164.5h2M488 165.5h2M490 166.5h3M493 167.5h4M497 168.5h4M501 169.5h3M504 170.5h3M507 171.5h2M509 172.5h2M511 173.5h1M512 174.5h1M513 175.5h1M514 176.5h1M515 177.5h1M516 178.5h1M517 179.5h1M518 180.5h1M519 181.5h1M520 182.5h1M521 183.5h1M522 184.5h1M523 185.5h1M524 186.5h1M525 187.5h1M526 188.5h1M527 189.5h1M528 190.5h1M529 191.5h1M530 192.5h1M531 193.5h1M532 194.5h1M532 195.5h1M533 196.5h1M534 197.5h1M535 198.5h1M536 199.5h1M537 200.5h1M537 201.5h1M538 202.5h1M539 203.5h1M540 204.5h1M541 205.5h1M542 206.5h1M543 207.5h1M544 208.5h1M545 209.5h1M546 210.5h1M547 211.5h1M548 212.5h1M549 213.5h1M550 214.5h1M551 215.5h1M552 216.5h1M553 217.5h1M554 218.5h1M554 219.5h1M555 220.5h1M556 221.5h1M557 222.5h1M558 223.5h1M559 224.5h1M559 225.5h1M560 226.5h1M561 227.5h1M561 228.5h1M562 229.5h1M563 230.5h1M564 231.5h1M564 232.5h1M565 233.5h1" fill="none" stroke="#5042cc" stroke-width="1" shape-rendering="crispEdges"/>
<path d="M277 57.5h2M275 58.5h2M279 58.5h2M273 59.5h2M281 59.5h2M272 60.5h1M283 60.5h1M271 61.5h1M283 61.5h1M270 62.5h1M284 62.5h1M268 63.5h2M284 63.5h1M267 64.5h1M285 64.5h1M226 65.5h3M266 65.5h1M286 65.5h1M223 66.5h3M229 66.5h4M265 66.5h1M286 66.5h1M221 67.5h2M233 67.5h3M264 67.5h1M287 67.5h1M220 68.5h1M236 68.5h3M263 68.5h1M287 68.5h1M219 69.5h1M239 69.5h2M262 69.5h1M288 69.5h1M218 70.5h1M241 70.5h2M261 70.5h1M288 70.5h1M217 71.5h1M243 71.5h1M260 71.5h1M288 71.5h1M217 72.5h1M244 72.5h2M259 72.5h1M289 72.5h1M216 73.5h1M246 73.5h1M258 73.5h1M289 73.5h1M216 74.5h1M247 74.5h2M257 74.5h1M289 74.5h1M215 75.5h1M249 75.5h2M255 75.5h2M290 75.5h1M215 76.5h1M251 76.5h2M254 76.5h1M290 76.5h1M215 77.5h1M253 77.5h1M291 77.5h1M214 78.5h1M291 78.5h1M214 79.5h1M291 79.5h1M213 80.5h1M292 80.5h1M213 81.5h1M292 81.5h1M213 82.5h1M292 82.5h1M212 83.5h1M293 83.5h1M212 84.5h1M293 84.5h1M212 85.5h1M293 85.5h1M212 86.5h1M294 86.5h1M211 87.5h1M294 87.5h1M211 88.5h1M294 88.5h1M211 89.5h1M295 89.5h1M211 90.5h1M295 90.5h1M210 91.5h1M296 91.5h1M210 92.5h1M296 92.5h1M210 93.5h1M296 93.5h1M209 94.5h1M297 94.5h1M209 95.5h1M297 95.5h1M208 96.5h1M297 96.5h1M208 97.5h1M298 97.5h1M207 98.5h1M298 98.5h1M207 99.5h1M299 99.5h1M206 100.5h1M299 100.5h1M206 101.5h1M299 101.5h1M206 102.5h1M300 102.5h1M14 103.5h1M205 103.5h1M300 103.5h1M15 104.5h2M205 104.5h1M300 104.5h1M17 105.5h1M204 105.5h1M301 105.5h1M18 106.5h1M204 106.5h1M301 106.5h1M18 107.5h1M204 107.5h1M302 107.5h1M19 108.5h1M203 108.5h1M302 108.5h1M20 109.5h1M203 109.5h1M302 109.5h1M20 110.5h1M203 110.5h1M303 110.5h1M21 111.5h1M202 111.5h1M303 111.5h1M22 112.5h1M202 112.5h1M304 112.5h1M22 113.5h1M201 113.5h1M304 113.5h1M23 114.5h1M201 114.5h1M305 114.5h1M326 114.5h2M24 115.5h1M200 115.5h1M305 115.5h1M324 115.5h2M328 115.5h2M24 116.5h1M200 116.5h1M306 116.5h1M323 116.5h1M330 116.5h1M25 117.5h1M199 117.5h1M306 117.5h1M321 117.5h2M331 117.5h1M26 118.5h1M199 118.5h1M307 118.5h3M320 118.5h1M332 118.5h1M26 119.5h1M198 119.5h1M310 119.5h10M332 119.5h1M27 120.5h1M198 120.5h1M333 120.5h1M28 121.5h1M197 121.5h1M334 121.5h1M28 122.5h1M197 122.5h1M335 122.5h1M29 123.5h1M196 123.5h1M335 123.5h1M30 124.5h1M196 124.5h1M336 124.5h1M30 125.5h1M195 125.5h1M337 125.5h1M413 125.5h3M31 126.5h1M195 126.5h1M337 126.5h1M410 126.5h3M416 126.5h2M32 127.5h1M194 127.5h1M338 127.5h1M407 127.5h3M418 127.5h5M32 128.5h1M193 128.5h1M338 128.5h1M390 128.5h3M404 128.5h3M423 128.5h5M33 129.5h1M192 129.5h1M339 129.5h1M388 129.5h2M393 129.5h2M401 129.5h3M428 129.5h2M34 130.5h1M191 130.5h1M339 130.5h1M386 130.5h2M395 130.5h2M399 130.5h2M429 130.5h1M35 131.5h1M123 131.5h9M191 131.5h1M340 131.5h1M385 131.5h1M397 131.5h2M430 131.5h1M35 132.5h1M120 132.5h3M132 132.5h4M190 132.5h1M340 132.5h1M384 132.5h1M430 132.5h1M36 133.5h1M119 133.5h1M136 133.5h3M189 133.5h1M341 133.5h1M383 133.5h1M431 133.5h1M37 134.5h1M117 134.5h2M139 134.5h1M188 134.5h1M341 134.5h1M382 134.5h1M431 134.5h1M37 135.5h1M116 135.5h1M140 135.5h2M187 135.5h1M342 135.5h1M381 135.5h1M432 135.5h1M38 136.5h1M115 136.5h1M142 136.5h1M186 136.5h1M342 136.5h1M380 136.5h1M432 136.5h1M39 137.5h1M114 137.5h1M143 137.5h1M185 137.5h1M343 137.5h1M380 137.5h1M433 137.5h1M40 138.5h1M113 138.5h1M144 138.5h1M184 138.5h1M343 138.5h1M379 138.5h1M433 138.5h1M40 139.5h1M112 139.5h1M145 139.5h2M184 139.5h1M343 139.5h1M379 139.5h1M434 139.5h1M41 140.5h1M111 140.5h1M147 140.5h1M183 140.5h1M344 140.5h1M378 140.5h1M434 140.5h1M42 141.5h1M110 141.5h1M148 141.5h2M180 141.5h3M344 141.5h1M378 141.5h1M435 141.5h1M42 142.5h1M108 142.5h2M150 142.5h2M165 142.5h15M345 142.5h1M377 142.5h1M435 142.5h1M43 143.5h1M90 143.5h18M152 143.5h4M160 143.5h5M345 143.5h1M377 143.5h1M436 143.5h1M44 144.5h1M88 144.5h2M156 144.5h4M346 144.5h1M376 144.5h1M436 144.5h1M44 145.5h1M87 145.5h1M346 145.5h1M376 145.5h1M437 145.5h1M45 146.5h1M86 146.5h1M347 146.5h1M375 146.5h1M437 146.5h1M46 147.5h1M85 147.5h1M347 147.5h1M375 147.5h1M438 147.5h1M47 148.5h1M84 148.5h1M348 148.5h1M374 148.5h1M438 148.5h1M48 149.5h1M83 149.5h1M348 149.5h1M373 149.5h1M439 149.5h1M49 150.5h1M82 150.5h1M349 150.5h1M373 150.5h1M439 150.5h1M50 151.5h1M81 151.5h1M349 151.5h1M372 151.5h1M440 151.5h1M50 152.5h1M80 152.5h1M349 152.5h1M372 152.5h1M440 152.5h1M51 153.5h1M79 153.5h1M350 153.5h1M371 153.5h1M441 153.5h1M51 154.5h1M78 154.5h1M350 154.5h1M371 154.5h1M441 154.5h1M52 155.5h1M77 155.5h1M351 155.5h1M370 155.5h1M442 155.5h1M52 156.5h1M76 156.5h1M351 156.5h1M369 156.5h1M442 156.5h1M53 157.5h1M75 157.5h1M352 157.5h1M368 157.5h1M443 157.5h1M53 158.5h1M74 158.5h1M352 158.5h1M367 158.5h1M443 158.5h1M54 159.5h1M73 159.5h1M353 159.5h1M366 159.5h1M444 159.5h1M55 160.5h1M72 160.5h1M353 160.5h1M366 160.5h1M444 160.5h1M55 161.5h1M71 161.5h1M354 161.5h1M365 161.5h1M445 161.5h1M56 162.5h1M71 162.5h1M354 162.5h1M364 162.5h1M445 162.5h1M57 163.5h2M70 163.5h1M355 163.5h1M364 163.5h1M446 163.5h1M59 164.5h2M69 164.5h1M356 164.5h2M363 164.5h1M446 164.5h1M61 165.5h3M67 165.5h2M358 165.5h1M362 165.5h1M447 165.5h1M64 166.5h3M359 166.5h2M362 166.5h1M447 166.5h1M361 167.5h1M448 167.5h1M448 168.5h1M449 169.5h1M450 170.5h1M450 171.5h1M451 172.5h1M451 173.5h1M452 174.5h1M452 175.5h1M453 176.5h1M453 177.5h1M454 178.5h1M454 179.5h1M455 180.5h1M455 181.5h1M456 182.5h1M456 183.5h1M457 184.5h1M457 185.5h1M458 186.5h1M458 187.5h1M458 188.5h1M459 189.5h1M459 190.5h1M460 191.5h1M460 192.5h1M461 193.5h1M461 194.5h1M461 195.5h1M462 196.5h1M462 197.5h1M463 198.5h1M463 199.5h1M464 200.5h1M464 201.5h1M465 202.5h1M465 203.5h1M466 204.5h1M466 205.5h1M467 206.5h1M467 207.5h1M468 208.5h2M470 209.5h3M473 210.5h2M475 211.5h1M476 212.5h1M477 213.5h1M477 214.5h1M478 215.5h1M479 216.5h1M480 217.5h1M499 217.5h1M481 218.5h2M498 218.5h1M500 218.5h2M483 219.5h2M496 219.5h2M502 219.5h1M485 220.5h11M503 220.5h1M504 221.5h1M505 222.5h1M506 223.5h1M507 224.5h1M508 225.5h1M509 226.5h1M510 227.5h1M511 228.5h1M512 229.5h1M512 230.5h1M513 231.5h1M514 232.5h1M515 233.5h1M515 234.5h1M516 235.5h1M517 236.5h1M518 237.5h1M519 238.5h1M520 239.5h1M520 240.5h1M521 241.5h1M522 242.5h1M523 243.5h1M523 244.5h1M524 245.5h1M524 246.5h1M525 247.5h1M525 248.5h1M526 249.5h1M526 250.5h1M527 251.5h1M527 252.5h1M528 253.5h1M528 254.5h1M529 255.5h1M529 256.5h1M530 257.5h1M530 258.5h1M531 259.5h1M531 260.5h1M532 261.5h1M532 262.5h1M532 263.5h1M533 264.5h1M533 265.5h1M534 266.5h1M534 267.5h1M535 268.5h1M535 269.5h1M536 270.5h1M536 271.5h1M537 272.5h1M538 273.5h1M538 274.5h1M539 275.5h1M540 276.5h1M541 277.5h1M541 278.5h1M542 279.5h1M543 280.5h1M544 281.5h2M546 282.5h1M547 283.5h1M548 284.5h1M549 285.5h1M550 286.5h1M551 287.5h1M552 288.5h1M553 289.5h1M554 290.5h1M555 291.5h1M556 292.5h1M557 293.5h1M558 294.5h1M559 295.5h1M560 296.5h1M561 297.5h2M563 298.5h2M565 299.5h1" fill="none" stroke="#ff0080" stroke-width="1" shape-rendering="crispEdges"/>
<g shape-rendering="crispEdges">
<rect x="489" y="307" width="91" height="1" fill="#0000ff"/>
<rect x="489" y="306.6" width="91" height="1.6" fill="#0000ff" opacity="0.5"/>
</g>
<path d="M568.7 317.4 L572.8 313.3 L572.8 315.4 L577 315.4 L577 319.4 L572.8 319.4 L572.8 321.5 Z" fill="#0000ff"/>
<g shape-rendering="crispEdges">
<rect x="8" y="23" width="585" height="1" fill="#000"/>
<rect x="8" y="23" width="1" height="458" fill="#000"/>
<rect x="592" y="23" width="1" height="301" fill="#000"/>
<rect x="592" y="326" width="1" height="155" fill="#000"/>
<rect x="8" y="480" width="585" height="1" fill="#000"/>
<rect x="8" y="324" width="585" height="2" fill="#ffffff"/>
<rect x="8" y="326" width="585" height="1" fill="#484848"/>
<rect x="593" y="60" width="2" height="1" fill="#000"/>
<rect x="593" y="93" width="2" height="1" fill="#000"/>
<rect x="593" y="126" width="2" height="1" fill="#000"/>
<rect x="593" y="160" width="2" height="1" fill="#000"/>
<rect x="593" y="195" width="2" height="1" fill="#000"/>
<rect x="593" y="231" width="2" height="1" fill="#000"/>
<rect x="593" y="269" width="2" height="1" fill="#000"/>
<rect x="593" y="308" width="2" height="1" fill="#000"/>
<rect x="593" y="343" width="2" height="1" fill="#000"/>
<rect x="593" y="370" width="2" height="1" fill="#000"/>
<rect x="593" y="398" width="2" height="1" fill="#000"/>
<rect x="593" y="425" width="2" height="1" fill="#000"/>
<rect x="593" y="453" width="2" height="1" fill="#000"/>
<rect x="601.5" y="211.5" width="34" height="15" fill="#ffffff" stroke="#000" stroke-width="1"/>
</g>
<text transform="translate(634.9,63.9) scale(0.8,1)" font-family="Liberation Sans, sans-serif" font-size="13" font-weight="normal" text-anchor="end" fill="#000">720</text>
<text transform="translate(634.9,96.9) scale(0.8,1)" font-family="Liberation Sans, sans-serif" font-size="13" font-weight="normal" text-anchor="end" fill="#000">700</text>
<text transform="translate(634.9,129.9) scale(0.8,1)" font-family="Liberation Sans, sans-serif" font-size="13" font-weight="normal" text-anchor="end" fill="#000">680</text>
<text transform="translate(634.9,163.9) scale(0.8,1)" font-family="Liberation Sans, sans-serif" font-size="13" font-weight="normal" text-anchor="end" fill="#000">660</text>
<text transform="translate(634.9,198.9) scale(0.8,1)" font-family="Liberation Sans, sans-serif" font-size="13" font-weight="normal" text-anchor="end" fill="#000">640</text>
<text transform="translate(634.9,272.9) scale(0.8,1)" font-family="Liberation Sans, sans-serif" font-size="13" font-weight="normal" text-anchor="end" fill="#000">600</text>
<text transform="translate(634.9,311.9) scale(0.8,1)" font-family="Liberation Sans, sans-serif" font-size="13" font-weight="normal" text-anchor="end" fill="#000">580</text>
<text transform="translate(634.9,346.9) scale(0.8,1)" font-family="Liberation Sans, sans-serif" font-size="13" font-weight="normal" text-anchor="end" fill="#000">100000</text>
<text transform="translate(634.9,373.9) scale(0.8,1)" font-family="Liberation Sans, sans-serif" font-size="13" font-weight="normal" text-anchor="end" fill="#000">80000</text>
<text transform="translate(634.9,401.9) scale(0.8,1)" font-family="Liberation Sans, sans-serif" font-size="13" font-weight="normal" text-anchor="end" fill="#000">60000</text>
<text transform="translate(634.9,428.9) scale(0.8,1)" font-family="Liberation Sans, sans-serif" font-size="13" font-weight="normal" text-anchor="end" fill="#000">40000</text>
<text transform="translate(634.9,456.9) scale(0.8,1)" font-family="Liberation Sans, sans-serif" font-size="13" font-weight="normal" text-anchor="end" fill="#000">20000</text>
<clipPath id="c620"><rect x="600" y="227" width="37" height="12"/></clipPath>
<g clip-path="url(#c620)">
<text transform="translate(634.9,234.9) scale(0.8,1)" font-family="Liberation Sans, sans-serif" font-size="13" font-weight="normal" text-anchor="end" fill="#000">620</text>
</g>
<text transform="translate(632,223.2) scale(0.8,1)" font-family="Liberation Sans, sans-serif" font-size="13" font-weight="normal" text-anchor="end" fill="#0000ff">626.8</text>
<text transform="translate(13.8,14.1) scale(0.785,1)" font-family="Liberation Sans, sans-serif" font-size="13" font-weight="normal" text-anchor="start" fill="#000">8306</text>
<text x="94" y="14" font-family="'Liberation Sans', 'Noto Sans CJK JP', sans-serif" font-size="12" fill="#fff">・</text>
<text x="112.5" y="14" font-family="'Liberation Sans', 'Noto Sans CJK JP', sans-serif" font-size="12" fill="#fff">三菱</text>
<text transform="translate(137.25,13.98) scale(0.676,1.020)" font-family="Liberation Sans, sans-serif" font-size="12.5" fill="#fff">U</text>
<text transform="translate(144.60,14.00) scale(0.687,1.023)" font-family="Liberation Sans, sans-serif" font-size="12.5" fill="#fff">F</text>
<text transform="translate(152.52,13.98) scale(0.897,1.020)" font-family="Liberation Sans, sans-serif" font-size="12.5" fill="#fff">J</text>
<text x="232.5" y="14" font-family="'Liberation Sans', 'Noto Sans CJK JP', sans-serif" font-size="12" fill="#fff">東証</text>
<text transform="translate(257.65,14.00) scale(0.9,1.023)" font-family="Liberation Sans, sans-serif" font-size="12.5" fill="#fff" stroke="#fff" stroke-width="0">1</text>
<text x="264.5" y="14" font-family="'Liberation Sans', 'Noto Sans CJK JP', sans-serif" font-size="12" fill="#fff">部</text>
<text x="592.5" y="14" font-family="'Liberation Sans', 'Noto Sans CJK JP', sans-serif" font-size="12" fill="#000">対数</text>
<text x="10.5" y="337.5" font-family="'Liberation Sans', 'Noto Sans CJK JP', sans-serif" font-size="10" fill="#000">売買高</text>
<text transform="translate(132.71,244.80) scale(0.9,0.963)" font-family="Liberation Sans, sans-serif" font-size="16.0" fill="#0000ff" stroke="#0000ff" stroke-width="0.55">1</text>
<text transform="translate(142.47,244.80) scale(0.905,0.949)" font-family="Liberation Sans, sans-serif" font-size="16.0" fill="#0000ff" stroke="#0000ff" stroke-width="0.55">2</text>
<text transform="translate(153.5,245.0) skewX(-9) scale(1.55,0.985)" font-family="Liberation Sans, sans-serif" font-size="16" fill="#0000ff" stroke="#0000ff" stroke-width="0.2">/</text>
<text transform="translate(163.01,244.80) scale(0.9,0.963)" font-family="Liberation Sans, sans-serif" font-size="16.0" fill="#0000ff" stroke="#0000ff" stroke-width="0.55">1</text>
<text transform="translate(172.38,244.65) scale(1.039,0.936)" font-family="Liberation Sans, sans-serif" font-size="16.0" fill="#0000ff" stroke="#0000ff" stroke-width="0.55">8</text>
<text transform="translate(181.97,242.80) scale(1.037,0.966)" font-family="Liberation Sans, sans-serif" font-size="16.0" fill="#0000ff" stroke="#0000ff" stroke-width="0.55">(</text>
<text transform="translate(188.90,244.65) scale(0.954,0.936)" font-family="Liberation Sans, sans-serif" font-size="16.0" fill="#0000ff" stroke="#0000ff" stroke-width="0.55">0</text>
<text transform="translate(198.90,242.80) scale(1.084,0.966)" font-family="Liberation Sans, sans-serif" font-size="16.0" fill="#0000ff" stroke="#0000ff" stroke-width="0.55">)</text>
<text transform="translate(210.63,244.65) scale(0.896,0.949)" font-family="Liberation Sans, sans-serif" font-size="16.0" fill="#0000ff" stroke="#0000ff" stroke-width="0.55">5</text>
<text transform="translate(220.22,244.80) scale(0.949,0.963)" font-family="Liberation Sans, sans-serif" font-size="16.0" fill="#0000ff" stroke="#0000ff" stroke-width="0.55">7</text>
<text transform="translate(230.53,244.65) scale(0.883,0.949)" font-family="Liberation Sans, sans-serif" font-size="16.0" fill="#0000ff" stroke="#0000ff" stroke-width="0.55">5</text>
<text transform="translate(240.77,244.80) scale(1.050,0.935)" font-family="Liberation Sans, sans-serif" font-size="16.0" fill="#0000ff" stroke="#0000ff" stroke-width="0.55">.</text>
<text transform="translate(244.74,244.80) scale(0.967,0.963)" font-family="Liberation Sans, sans-serif" font-size="16.0" fill="#0000ff" stroke="#0000ff" stroke-width="0.55">4</text>
<text transform="translate(255.44,244.65) scale(0.912,0.936)" font-family="Liberation Sans, sans-serif" font-size="16.0" fill="#0000ff" stroke="#0000ff" stroke-width="0.55">S</text>
<text x="132.7" y="267" font-family="'Liberation Sans', 'Noto Sans CJK JP', sans-serif" font-size="16" fill="#0000ff" stroke="#0000ff" stroke-width="0.4">※</text>
<text x="152.5" y="267" font-family="'Liberation Sans', 'Noto Sans CJK JP', sans-serif" font-size="16" fill="#0000ff" stroke="#0000ff" stroke-width="0.4">損</text>
<text x="169.8" y="267" font-family="'Liberation Sans', 'Noto Sans CJK JP', sans-serif" font-size="16" fill="#0000ff" stroke="#0000ff" stroke-width="0.4">切</text>
<text x="185" y="267" font-family="'Liberation Sans', 'Noto Sans CJK JP', sans-serif" font-size="16" fill="#0000ff" stroke="#0000ff" stroke-width="0.4">り</text>
<text transform="translate(201.19,266.80) scale(1.510,0.899)" font-family="Liberation Sans, sans-serif" font-size="16.0" fill="#0000ff" stroke="#0000ff" stroke-width="0.55">:</text>
<text transform="translate(210.43,267.45) scale(0.896,0.949)" font-family="Liberation Sans, sans-serif" font-size="16.0" fill="#0000ff" stroke="#0000ff" stroke-width="0.55">5</text>
<text transform="translate(220.21,267.45) scale(0.999,0.936)" font-family="Liberation Sans, sans-serif" font-size="16.0" fill="#0000ff" stroke="#0000ff" stroke-width="0.55">8</text>
<text transform="translate(231.01,267.60) scale(0.9,0.963)" font-family="Liberation Sans, sans-serif" font-size="16.0" fill="#0000ff" stroke="#0000ff" stroke-width="0.55">1</text>
<text transform="translate(240.67,267.60) scale(1.050,0.935)" font-family="Liberation Sans, sans-serif" font-size="16.0" fill="#0000ff" stroke="#0000ff" stroke-width="0.55">.</text>
<text transform="translate(244.26,267.60) scale(0.919,0.949)" font-family="Liberation Sans, sans-serif" font-size="16.0" fill="#0000ff" stroke="#0000ff" stroke-width="0.55">2</text>
<text x="256.3" y="267.3" font-family="'Liberation Sans', 'Noto Sans CJK JP', sans-serif" font-size="16" fill="#0000ff" stroke="#0000ff" stroke-width="0.4">円</text>
<text x="132.7" y="290" font-family="'Liberation Sans', 'Noto Sans CJK JP', sans-serif" font-size="16" fill="#0000ff" stroke="#0000ff" stroke-width="0.4">※</text>
<text x="152" y="290" font-family="'Liberation Sans', 'Noto Sans CJK JP', sans-serif" font-size="16" fill="#0000ff" stroke="#0000ff" stroke-width="0.4">利</text>
<text x="170" y="290" font-family="'Liberation Sans', 'Noto Sans CJK JP', sans-serif" font-size="16" fill="#0000ff" stroke="#0000ff" stroke-width="0.4">食</text>
<text x="186.5" y="290" font-family="'Liberation Sans', 'Noto Sans CJK JP', sans-serif" font-size="16" fill="#0000ff" stroke="#0000ff" stroke-width="0.4">い</text>
<text transform="translate(204.29,290.00) scale(1.444,0.899)" font-family="Liberation Sans, sans-serif" font-size="16.0" fill="#0000ff" stroke="#0000ff" stroke-width="0.55">:</text>
<text transform="translate(213.53,290.55) scale(0.896,0.941)" font-family="Liberation Sans, sans-serif" font-size="16.0" fill="#0000ff" stroke="#0000ff" stroke-width="0.55">5</text>
<text transform="translate(223.84,290.55) scale(0.870,0.941)" font-family="Liberation Sans, sans-serif" font-size="16.0" fill="#0000ff" stroke="#0000ff" stroke-width="0.55">5</text>
<text transform="translate(233.81,290.56) scale(0.999,0.927)" font-family="Liberation Sans, sans-serif" font-size="16.0" fill="#0000ff" stroke="#0000ff" stroke-width="0.55">8</text>
<text transform="translate(243.37,290.70) scale(1.116,0.935)" font-family="Liberation Sans, sans-serif" font-size="16.0" fill="#0000ff" stroke="#0000ff" stroke-width="0.55">.</text>
<text transform="translate(248.21,290.70) scale(0.9,0.954)" font-family="Liberation Sans, sans-serif" font-size="16.0" fill="#0000ff" stroke="#0000ff" stroke-width="0.55">1</text>
<text x="258.4" y="290.3" font-family="'Liberation Sans', 'Noto Sans CJK JP', sans-serif" font-size="16" fill="#0000ff" stroke="#0000ff" stroke-width="0.4">円</text>
</svg>
</body></html>
